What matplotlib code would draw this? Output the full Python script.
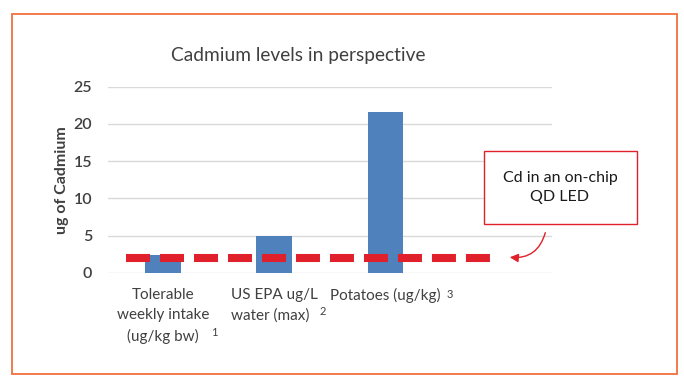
import matplotlib

matplotlib.use("Agg")
import matplotlib.pyplot as plt
from matplotlib.patches import Rectangle, FancyArrowPatch
import matplotlib.transforms as mtransforms

plt.rcParams["font.family"] = ["Lato", "DejaVu Sans"]

categories = [
    "Tolerable\nweekly intake\n(ug/kg bw)",
    "US EPA ug/L\nwater (max)",
    "Potatoes (ug/kg)",
]
footnotes = ["1", "2", "3"]
cd_values = [2.4, 5.0, 21.6]
cd_on_chip = 2.0
y_ticks = [0, 5, 10, 15, 20, 25]

BAR_BLUE = "#4f81bd"
DASH_RED = "#e0202a"
TEXT_GREY = "#404040"

W, H = 684, 382
fig = plt.figure(figsize=(W / 100, H / 100), dpi=100)


def fx(px):
    return px / W


def fy(py):
    return 1 - py / H


# orange frame around the whole panel
fig.patches.append(Rectangle((fx(12), fy(374)), fx(677) - fx(12), fy(14) - fy(374),
                             transform=fig.transFigure, fill=False,
                             edgecolor="#f0703f", linewidth=1.3))

ax = fig.add_axes([fx(107.5), fy(273), fx(552) - fx(107.5), fy(86.6) - fy(273)])
x = list(range(len(categories)))
ax.bar(x, cd_values, width=0.32, color=BAR_BLUE, zorder=2)
ax.set_xlim(-0.5, 3.5)
ax.set_ylim(0, 25)
ax.set_yticks(y_ticks)
ax.yaxis.grid(True, color="#d9d9d9", linewidth=1.0, zorder=0)
ax.set_axisbelow(True)
for s in ax.spines.values():
    s.set_visible(False)
ax.tick_params(axis="y", length=0, pad=11, labelsize=11.5, labelcolor=TEXT_GREY)
for t in ax.get_yticklabels():
    t.set_fontweight("semibold")
ax.set_xticks([])

# dashed level of Cd in an on-chip QD LED
ax.plot([-0.33, 2.98], [cd_on_chip, cd_on_chip], color=DASH_RED, linewidth=5.8,
        linestyle=(0, (2.98, 1.24)), solid_capstyle="butt", dash_capstyle="butt", zorder=3)

ax.set_ylabel("ug of Cadmium", fontsize=11.5, fontweight="bold", color=TEXT_GREY)
ax.yaxis.set_label_coords(-0.087, 0.5)

fig.text(fx(298), fy(55), "Cadmium levels in perspective", ha="center", va="center",
         fontsize=13.8, color=TEXT_GREY)

# category labels with footnote markers
trans = mtransforms.blended_transform_factory(ax.transData, ax.transAxes)
aligns = ["center", "left", "left"]
for i, (lab, fn, al) in enumerate(zip(categories, footnotes, aligns)):
    t = ax.text(i, -0.08, lab, transform=trans, ha="center", va="top",
                multialignment=al, fontsize=11, color=TEXT_GREY, linespacing=1.55)
    if i == 2:
        ax.annotate(fn, xy=(1, 1), xycoords=t, xytext=(4, -1), textcoords="offset points",
                    ha="left", va="top", fontsize=8, color=TEXT_GREY)
    else:
        ax.annotate(fn, xy=(1, 0), xycoords=t, xytext=(1.5, 4), textcoords="offset points",
                    ha="left", va="bottom", fontsize=8, color=TEXT_GREY)

# callout box
fig.patches.append(Rectangle((fx(484), fy(224)), fx(637) - fx(484), fy(151) - fy(224),
                             transform=fig.transFigure, facecolor="white",
                             edgecolor=DASH_RED, linewidth=1.0, zorder=5))
fig.text(fx(560), fy(187.5), "Cd in an on-chip\nQD LED", ha="center", va="center",
         fontsize=11.5, color="#1a1a1a", linespacing=1.45, zorder=6)
fig.add_artist(FancyArrowPatch(
    (fx(546), fy(230)), (fx(507), fy(257)), transform=fig.transFigure,
    connectionstyle="arc3,rad=-0.45", arrowstyle="-|>,head_length=5,head_width=2.5",
    color=DASH_RED, linewidth=1.0))

fig.savefig("out.png", dpi=100)
